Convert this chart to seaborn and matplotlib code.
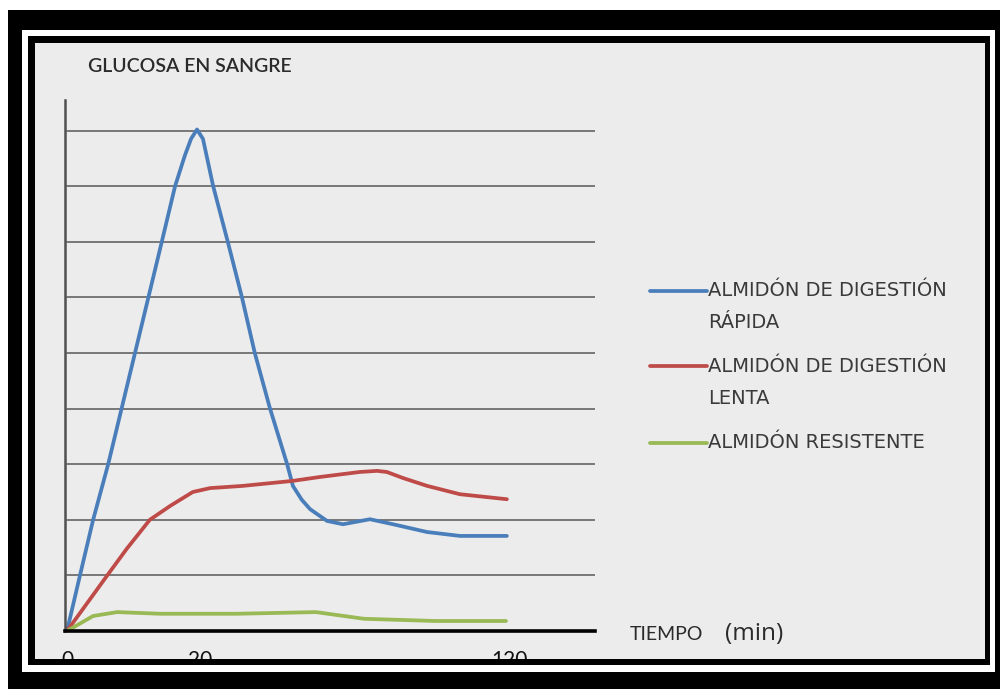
import numpy as np
import pandas as pd
import seaborn as sns
import matplotlib
matplotlib.use("Agg")
import matplotlib.pyplot as plt
from matplotlib.patches import Rectangle
from matplotlib.lines import Line2D

# ---- data (x = category position on the time axis, y = glucose in grid units)
rapida_x = [0, 0.29, 0.59, 0.93, 1.55, 2.14, 2.44, 2.66, 2.80, 2.935, 3.07, 3.30, 3.63, 3.95,
            4.24, 4.58, 4.97, 5.10, 5.30, 5.49, 5.87, 6.23, 6.84, 7.36, 8.13, 8.87, 9.93]
rapida_y = [0, 0.99, 2.0, 3.0, 5.05, 7.0, 8.0, 8.55, 8.85, 9.02, 8.85, 8.0, 7.0, 6.0,
            5.0, 4.01, 3.0, 2.61, 2.36, 2.19, 1.98, 1.92, 2.01, 1.92, 1.78, 1.71, 1.71]
lenta_x = [0, 0.90, 1.35, 1.87, 2.33, 2.84, 3.23, 3.97, 5.10, 5.71, 6.61, 7.0, 7.22, 7.59,
           8.13, 8.87, 9.93]
lenta_y = [0, 0.99, 1.48, 2.0, 2.25, 2.50, 2.57, 2.61, 2.70, 2.77, 2.86, 2.88, 2.86, 2.75,
           2.61, 2.46, 2.37]
resist_x = [0, 0.59, 1.13, 2.10, 3.84, 5.62, 6.25, 6.70, 8.31, 9.91]
resist_y = [0, 0.27, 0.34, 0.31, 0.31, 0.34, 0.27, 0.22, 0.18, 0.18]

series_names = ["ALMIDÓN DE DIGESTIÓN\nRÁPIDA", "ALMIDÓN DE DIGESTIÓN\nLENTA", "ALMIDÓN RESISTENTE"]
series_colors = ["#4a7ebb", "#be4b48", "#98b954"]
tick_pos = [0, 3, 10]
tick_labels = ["0", "20", "120"]
n_grid = 9

df = pd.concat([
    pd.DataFrame({"x": rapida_x, "y": rapida_y, "serie": series_names[0]}),
    pd.DataFrame({"x": lenta_x, "y": lenta_y, "serie": series_names[1]}),
    pd.DataFrame({"x": resist_x, "y": resist_y, "serie": series_names[2]}),
])

sns.set_style("white")
W, H = 1000, 689
fig = plt.figure(figsize=(10, 6.89), dpi=100)
fig.patch.set_facecolor("white")

def frect(x0, y0, x1, y1, color, z):
    # pixel coords (top-left origin) -> figure fraction
    r = Rectangle((x0 / W, 1 - y1 / H), (x1 - x0) / W, (y1 - y0) / H,
                  transform=fig.transFigure, facecolor=color, edgecolor="none", zorder=z)
    fig.add_artist(r)

# frame (below axes)
frect(8, 10, 1000, 689, "black", -10)
frect(22, 30, 995, 672, "white", -9)
frect(28, 36, 990, 665, "black", -8)
frect(35, 43, 985, 659, "#ececec", -7)

ax = fig.add_axes([65 / W, 1 - 631 / H, 530 / W, 531 / H])
ax.set_facecolor("none")
ax.set_zorder(1)

sns.lineplot(data=df, x="x", y="y", hue="serie", palette=series_colors, sort=False,
             estimator=None, linewidth=2.7, ax=ax, legend=False)
for ln in ax.lines:
    ln.set_solid_joinstyle("round")
    ln.set_solid_capstyle("round")

ax.set_xlim(-0.045, 11.92)
ax.set_ylim(0, 9.55)
for k in range(1, n_grid + 1):
    ax.axhline(k, xmin=0.045 / 11.965, xmax=1, color="#6e6e6e", lw=1.3, zorder=0)

for s in ["top", "right"]:
    ax.spines[s].set_visible(False)
ax.spines["left"].set_color("#505050")
ax.spines["left"].set_linewidth(1.8)
ax.spines["bottom"].set_color("black")
ax.spines["bottom"].set_linewidth(2.6)
ax.set_yticks([])
ax.set_xticks(tick_pos)
ax.set_xticklabels(tick_labels, fontsize=15, color="#111111", family="Lato")
ax.tick_params(axis="x", length=11.5, width=1.8, color="black", pad=2)
ax.set_xlabel("")
ax.set_ylabel("")

# texts
fig.text(88 / W, 1 - 66 / H, "GLUCOSA EN SANGRE", fontsize=14, family="Lato", fontweight="semibold",
         color="#2b2b2b", ha="left", va="center")
fig.text(630 / W, 1 - 635 / H, "TIEMPO", fontsize=14, family="Lato", color="#2b2b2b",
         ha="left", va="center")
fig.text(725 / W, 1 - 634 / H, "(min)", fontsize=17.5, family="Open Sans", color="#2b2b2b",
         ha="left", va="center")

# legend (handles aligned with the first line of each label)
leg_rows = [291, 366, 443]
for name, col, yy in zip(series_names, series_colors, leg_rows):
    fig.add_artist(Line2D([650 / W, 707 / W], [1 - yy / H, 1 - yy / H], transform=fig.transFigure,
                          color=col, lw=2.7, zorder=5))
    lines = name.split("\n")
    for i, t in enumerate(lines):
        fig.text(708 / W, 1 - (yy + 32 * i) / H, t, fontsize=14, family="DejaVu Sans",
                 color="#3a3a3a", ha="left", va="center", zorder=5)

# bottom frame bands drawn on top (they clip the tick labels as in the reference)
frect(28, 659, 990, 665, "black", 20)
frect(22, 665, 995, 672, "white", 20)
frect(8, 672, 1000, 689, "black", 20)

fig.savefig("out.png", dpi=100, facecolor=fig.get_facecolor())
